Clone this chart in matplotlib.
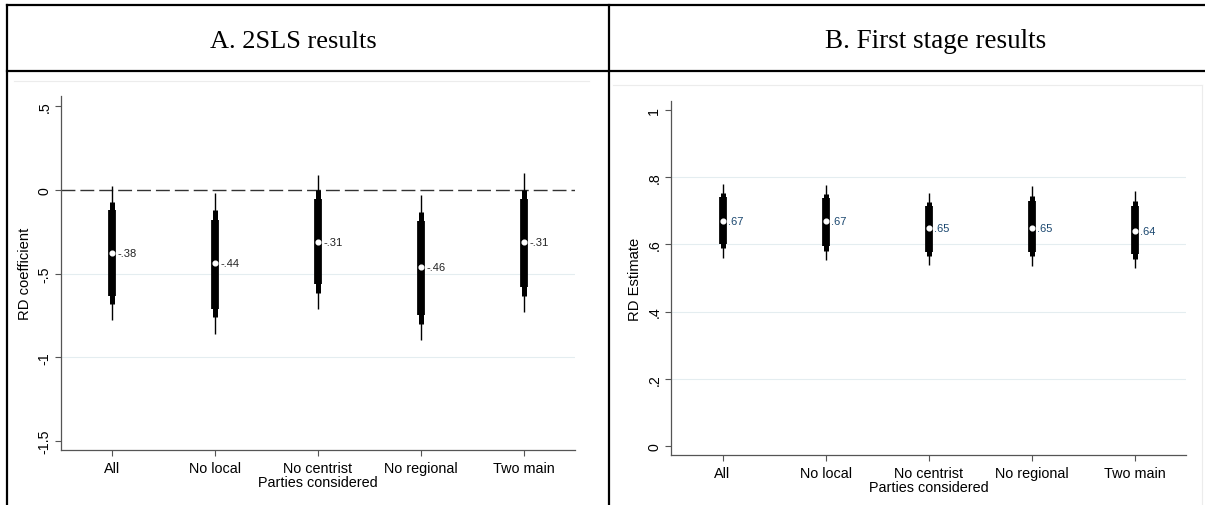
import matplotlib
matplotlib.use("Agg")
import matplotlib.pyplot as plt
from matplotlib.lines import Line2D

plt.rcParams["font.family"] = ["Liberation Sans", "DejaVu Sans"]

W, H = 1205, 506

categories = ["All", "No local", "No centrist", "No regional", "Two main"]

# Panel A: 2SLS estimates with three confidence bands (outer, middle, inner)
coef_a = [-0.38, -0.44, -0.31, -0.46, -0.31]
outer_hi_a = [0.02, -0.02, 0.09, -0.03, 0.10]
outer_lo_a = [-0.78, -0.86, -0.71, -0.90, -0.73]
mid_hi_a = [-0.075, -0.12, 0.0, -0.13, 0.0]
mid_lo_a = [-0.685, -0.76, -0.615, -0.80, -0.635]
inner_hi_a = [-0.12, -0.18, -0.055, -0.185, -0.055]
inner_lo_a = [-0.635, -0.71, -0.565, -0.745, -0.58]

# Panel B: first stage estimates
est_b = [0.67, 0.67, 0.65, 0.65, 0.64]
outer_hi_b = [0.78, 0.778, 0.753, 0.773, 0.76]
outer_lo_b = [0.56, 0.554, 0.539, 0.537, 0.529]
mid_hi_b = [0.753, 0.75, 0.725, 0.743, 0.728]
mid_lo_b = [0.588, 0.581, 0.566, 0.566, 0.557]
inner_hi_b = [0.74, 0.737, 0.713, 0.73, 0.715]
inner_lo_b = [0.601, 0.596, 0.576, 0.578, 0.571]

yticks_a = [0.5, 0, -0.5, -1, -1.5]
yticks_b = [0, 0.2, 0.4, 0.6, 0.8, 1]


def stata_fmt(v):
    s = f"{v:.2f}" if v != int(v) else f"{int(v)}"
    s = s.rstrip("0") if "." in s else s
    return s.replace("0.", ".")


def px_axes(fig, left, top, right, bottom):
    return fig.add_axes([left / W, 1 - bottom / H, (right - left) / W, (bottom - top) / H])


def draw_panel(ax, est, outer, mid, inner, ylim, yticks, ylabel, lab_color, grid_at):
    x = list(range(1, len(categories) + 1))
    ax.set_xlim(0.5, len(categories) + 0.5)
    ax.set_ylim(*ylim)
    for g in grid_at:
        ax.axhline(g, color="#e4edf0", lw=0.8, zorder=0)
    ax.vlines(x, outer[0], outer[1], color="black", lw=1.0, zorder=2)
    ax.vlines(x, mid[0], mid[1], color="black", lw=3.6, zorder=2)
    ax.vlines(x, inner[0], inner[1], color="black", lw=5.6, zorder=2)
    ax.plot(x, est, "o", color="white", ms=3.4, mec="white", zorder=3)
    for xi, v in zip(x, est):
        ax.annotate(stata_fmt(v), (xi, v), xytext=(4, 0), textcoords="offset points",
                    va="center", ha="left", fontsize=8, color=lab_color, zorder=4)

    for side in ("top", "right"):
        ax.spines[side].set_visible(False)
    for side in ("left", "bottom"):
        ax.spines[side].set_color("#555555")
        ax.spines[side].set_linewidth(0.9)

    ax.set_xticks(x)
    ax.set_xticklabels(categories, fontsize=10.4)
    ax.set_yticks(yticks)
    ax.set_yticklabels([stata_fmt(t) for t in yticks], rotation=90, va="center", fontsize=10.2)
    ax.tick_params(axis="both", color="#555555", length=4, width=0.8, pad=3)
    ax.tick_params(axis="x", pad=4)
    ax.set_xlabel("Parties considered", fontsize=10.4, labelpad=0)
    ax.set_ylabel(ylabel, fontsize=10.6, labelpad=4)
    ax.patch.set_alpha(0)


fig = plt.figure(figsize=(W / 100, H / 100), dpi=100)

ax_a = px_axes(fig, 61, 97, 575, 451)
ax_a.axhline(0, color="#333333", lw=1.0, linestyle=(0, (10, 3.6)), zorder=1)
draw_panel(ax_a, coef_a, (outer_lo_a, outer_hi_a), (mid_lo_a, mid_hi_a),
           (inner_lo_a, inner_hi_a), (-1.554, 0.56), yticks_a,
           "RD coefficient", "#222222", [-0.5, -1])

ax_b = px_axes(fig, 671, 102, 1186, 456)
draw_panel(ax_b, est_b, (outer_lo_b, outer_hi_b), (mid_lo_b, mid_hi_b),
           (inner_lo_b, inner_hi_b), (-0.027, 1.027), yticks_b,
           "RD Estimate", "#1a476f", [0.2, 0.4, 0.6, 0.8])


# table frame around the two panels
def fig_line(x0, y0, x1, y1, **kw):
    fig.add_artist(Line2D([x0 / W, x1 / W], [1 - y0 / H, 1 - y1 / H],
                          transform=fig.transFigure, **kw))


frame = dict(color="black", lw=1.6, solid_capstyle="projecting")
fig_line(7, 6, W, 6, **frame)
fig_line(7, 72, W, 72, **frame)
fig_line(7, 6, 7, H, **frame)
fig_line(609, 6, 609, H, **frame)

# faint outlines of each graph region
faint = dict(color="#ececec", lw=0.8)
fig_line(14, 82, 589, 82, **faint)
fig_line(613, 86, 1202, 86, **faint)
fig_line(1202, 86, 1202, H, **faint)

fig.text(293 / W, 1 - 48 / H, "A. 2SLS results", ha="center", va="baseline",
         fontsize=19, family="Liberation Serif")
fig.text(936 / W, 1 - 48 / H, "B. First stage results", ha="center", va="baseline",
         fontsize=19.5, family="Liberation Serif")

fig.savefig("out.png", dpi=100)
